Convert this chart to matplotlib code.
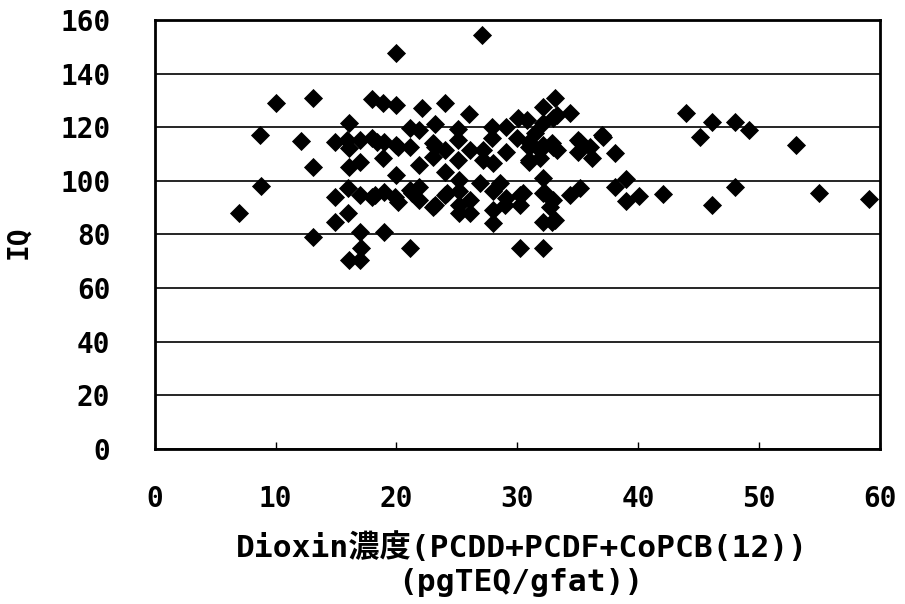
import matplotlib.pyplot as plt

plt.rcParams['font.family'] = ['DejaVu Sans Mono', 'Noto Sans CJK JP']

# Dioxin concentration (pgTEQ/gfat) and IQ
dioxin = [
    7.0, 8.7, 8.8, 10.0, 12.1, 13.1, 13.1, 13.1,
    16.1, 14.9, 15.9, 17.0, 18.0, 19.0, 20.1, 21.1, 16.1, 18.9, 16.1, 17.0,
    20.0, 18.0, 18.9, 20.0, 22.1, 21.1, 21.9, 21.9, 23.0, 23.0, 20.0, 27.1,
    18.4, 20.0,
    16.0, 14.9, 17.0, 18.0, 19.0, 20.1, 21.3, 21.9, 16.0, 14.9, 17.0, 19.0,
    21.1, 17.1, 16.1, 17.0, 23.2, 18.2, 19.9, 21.1, 21.9, 23.0, 24.2,
    24.0, 26.0, 30.1, 32.1, 23.2, 25.1, 27.9, 29.1, 25.1, 27.9, 30.0, 31.0,
    23.2, 24.0, 26.1, 27.2, 29.1, 32.1, 25.1, 27.2, 28.0, 31.0, 24.0, 32.1,
    24.0, 25.2, 25.2, 26.1, 25.2, 26.1, 28.0, 30.2, 28.0, 29.0, 30.2, 28.0,
    32.1, 32.7, 32.1, 32.9, 30.2, 32.1, 25.2, 26.9, 28.6, 29.1,
    33.1, 34.4, 33.3, 31.5, 32.9, 35.0, 37.0, 36.0, 35.0, 36.2, 31.9, 33.3,
    31.9, 33.0, 32.1, 31.0, 33.0, 35.2, 31.0, 30.8,
    30.5, 32.3, 33.0, 34.4, 35.2, 33.1,
    37.1, 38.1, 38.1, 39.0, 39.0, 40.1, 42.1,
    44.0, 45.1, 46.1, 48.0, 49.2, 53.1, 55.0, 59.1, 48.0, 46.1,
]
iq = [
    88, 117, 98, 129, 115, 131, 105, 79,
    121.6, 114.6, 115.3, 115.3, 116, 114.6, 112.7, 112.7, 112.3, 108.6, 105.2, 107,
    102.2, 130.6, 129, 128.4, 127, 119.8, 119, 106, 114, 109, 147.8, 154.5,
    114.6, 113.4,
    97.4, 94, 94.8, 94, 95.9, 92.2, 95.5, 92.9, 88, 84.7, 81, 81,
    75, 75, 70.5, 70.5, 91, 94.8, 94, 96.6, 97.8, 90.3, 95.5,
    129, 125, 123.5, 127.6, 121, 119.4, 120, 120, 115.3, 116, 116, 114.6,
    112.7, 111.6, 111.6, 111.6, 110.8, 113.4, 107.8, 107.8, 106.7, 107, 103.4, 101,
    94.8, 96, 91, 93, 88, 88, 96, 94.8, 89, 91, 91, 84.3,
    95.5, 90.3, 84.7, 84.7, 75, 75, 100.4, 99, 99, 93.6,
    131, 125.4, 124.6, 118, 114.2, 115.3, 117.2, 112.7, 110.8, 108.6, 111.6, 111.6,
    108.6, 123.5, 121.6, 112.7, 112.7, 114.6, 107.8, 122.8,
    95.5, 95.5, 93, 94.8, 97.4, 85.4,
    116.4, 110.4, 97.8, 100.7, 92.5, 94.4, 95,
    125.4, 116.4, 122, 122, 119, 113.4, 95.5, 93.3, 97.8, 91,
]

x_ticks = [0, 10, 20, 30, 40, 50, 60]
y_ticks = [0, 20, 40, 60, 80, 100, 120, 140, 160]

fig = plt.figure(figsize=(9.05, 6.04), dpi=100)
ax = fig.add_axes([0.171, 0.257, 0.801, 0.710])

ax.set_axisbelow(True)
ax.yaxis.grid(True, color='black', linewidth=1.2)
ax.scatter(dioxin, iq, marker='D', s=95, color='black', linewidths=0, zorder=3)

ax.set_xlim(0, 60)
ax.set_ylim(0, 160)
ax.set_xticks(x_ticks)
ax.set_yticks(y_ticks)
ax.tick_params(axis='x', direction='in', length=5, width=1, pad=26, labelsize=20)
ax.tick_params(axis='y', length=0, pad=32, labelsize=20)
for lab in ax.get_xticklabels() + ax.get_yticklabels():
    lab.set_fontweight('bold')
for sp in ax.spines.values():
    sp.set_linewidth(2)

fig.text(0.020, 0.599, 'IQ', rotation=90, ha='center', va='center',
         fontsize=20, fontweight='bold')
fig.text(0.577, 0.093, 'Dioxin濃度(PCDD+PCDF+CoPCB(12))', ha='center', va='center',
         fontsize=22.5, fontweight='bold')
fig.text(0.576, 0.035, '(pgTEQ/gfat))', ha='center', va='center',
         fontsize=22.5, fontweight='bold')

fig.savefig('out.png', dpi=100)
